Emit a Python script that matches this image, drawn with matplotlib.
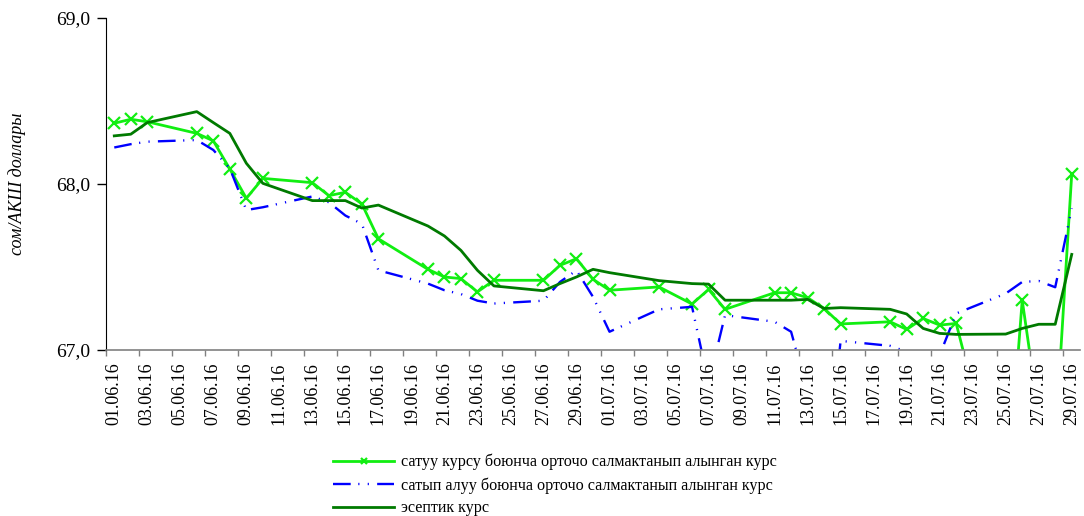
import matplotlib
matplotlib.use("Agg")
import matplotlib.pyplot as plt
import pandas as pd

# working days with quotes
dates = ['01.06.16', '02.06.16', '03.06.16', '06.06.16', '07.06.16', '08.06.16', '09.06.16',
         '10.06.16', '13.06.16', '14.06.16', '15.06.16', '16.06.16', '17.06.16', '20.06.16',
         '21.06.16', '22.06.16', '23.06.16', '24.06.16', '27.06.16', '28.06.16', '29.06.16',
         '30.06.16', '01.07.16', '04.07.16', '06.07.16', '07.07.16', '08.07.16', '11.07.16',
         '12.07.16', '13.07.16', '14.07.16', '15.07.16', '18.07.16', '19.07.16', '20.07.16',
         '21.07.16', '22.07.16', '25.07.16', '26.07.16', '27.07.16', '28.07.16', '29.07.16']

sell = [68.366, 68.39, 68.375, 68.305, 68.26, 68.09, 67.914, 68.034, 68.008, 67.93, 67.95,
        67.88, 67.67, 67.486, 67.44, 67.43, 67.35, 67.42, 67.42, 67.51, 67.55, 67.426, 67.36,
        67.38, 67.277, 67.365, 67.245, 67.345, 67.345, 67.315, 67.25, 67.157, 67.17, 67.124,
        67.19, 67.15, 67.16, 66.0, 67.30, 66.61, 66.45, 68.06]

buy = [68.22, 68.24, 68.255, 68.265, 68.205, 68.094, 67.843, 67.86, 67.925, 67.89, 67.81,
       67.76, 67.48, 67.40, 67.36, 67.337, 67.297, 67.28, 67.297, 67.41, 67.48, 67.32, 67.11,
       67.245, 67.26, 66.8, 67.21, 67.17, 67.11, 66.75, 66.13, 67.055, 67.025, 66.99, 66.98,
       66.97, 67.22, 67.34, 67.41, 67.416, 67.378, 67.853]

official = [68.29, 68.30, 68.37, 68.436, 68.37, 68.305, 68.125, 68.004, 67.90, 67.90, 67.90,
            67.855, 67.873, 67.747, 67.687, 67.60, 67.48, 67.386, 67.357, 67.40, 67.44, 67.486,
            67.466, 67.418, 67.40, 67.397, 67.30, 67.30, 67.30, 67.305, 67.25, 67.255, 67.245,
            67.217, 67.13, 67.10, 67.094, 67.096, 67.13, 67.155, 67.155, 67.576]

labels = ['сатуу курсу боюнча орточо салмактанып алынган курс',
          'сатып алуу боюнча орточо салмактанып алынган курс',
          'эсептик курс']

start = pd.Timestamp('2016-06-01')
dt = pd.to_datetime(dates, format='%d.%m.%y')
x = (dt - start).days + 0.5   # each day is a slot, point in the middle

tick_days = pd.date_range('2016-06-01', '2016-07-29', freq='2D')
tick_x = (tick_days - start).days

plt.rcParams['font.family'] = ['Liberation Serif', 'DejaVu Serif']

fig = plt.figure(figsize=(10.84, 5.16), dpi=100)
ax = fig.add_axes([0.0978, 0.3217, 0.8985, 0.6434])

ax.plot(x, sell, color='#11ee11', lw=2.0, marker='x', ms=9, mew=1.6, label=labels[0])
ax.plot(x, buy, color='#0000ff', lw=1.7,
        linestyle=(0, (7.5, 3.2, 0.5, 3.5, 0.5, 3.5)), label=labels[1])
ax.plot(x, official, color='#007a00', lw=2.0, label=labels[2])

ax.set_xlim(0, 59)
ax.set_ylim(67, 69)
ax.set_yticks([67, 68, 69])
ax.set_yticklabels(['67,0', '68,0', '69,0'], fontsize=14)
ax.tick_params(axis='y', direction='out', length=6.5, width=1, pad=5)

ax.set_xticks(tick_x)
ax.set_xticklabels([])
ax.set_xticks(tick_x + 0.5, minor=True)
ax.set_xticklabels([d.strftime('%d.%m.%y') for d in tick_days], minor=True,
                   rotation=90, fontsize=13)
ax.tick_params(axis='x', which='major', direction='out', length=4, width=1, color='#808080')
ax.tick_params(axis='x', which='minor', length=0, pad=9)

ax.spines['top'].set_visible(False)
ax.spines['right'].set_visible(False)
ax.spines['bottom'].set_color('#808080')
ax.spines['bottom'].set_linewidth(1.2)

ax.set_ylabel('сом/АКШ доллары', fontsize=13, style='italic', labelpad=18)
ax.yaxis.set_label_coords(-0.082, 0.5)

fig.legend(loc='center left', bbox_to_anchor=(0.3, 0.06), frameon=False, fontsize=11.6,
           handlelength=3.8, handletextpad=0.4, labelspacing=0.42, borderpad=0,
           markerscale=0.5)

fig.savefig('out.png', dpi=100)
